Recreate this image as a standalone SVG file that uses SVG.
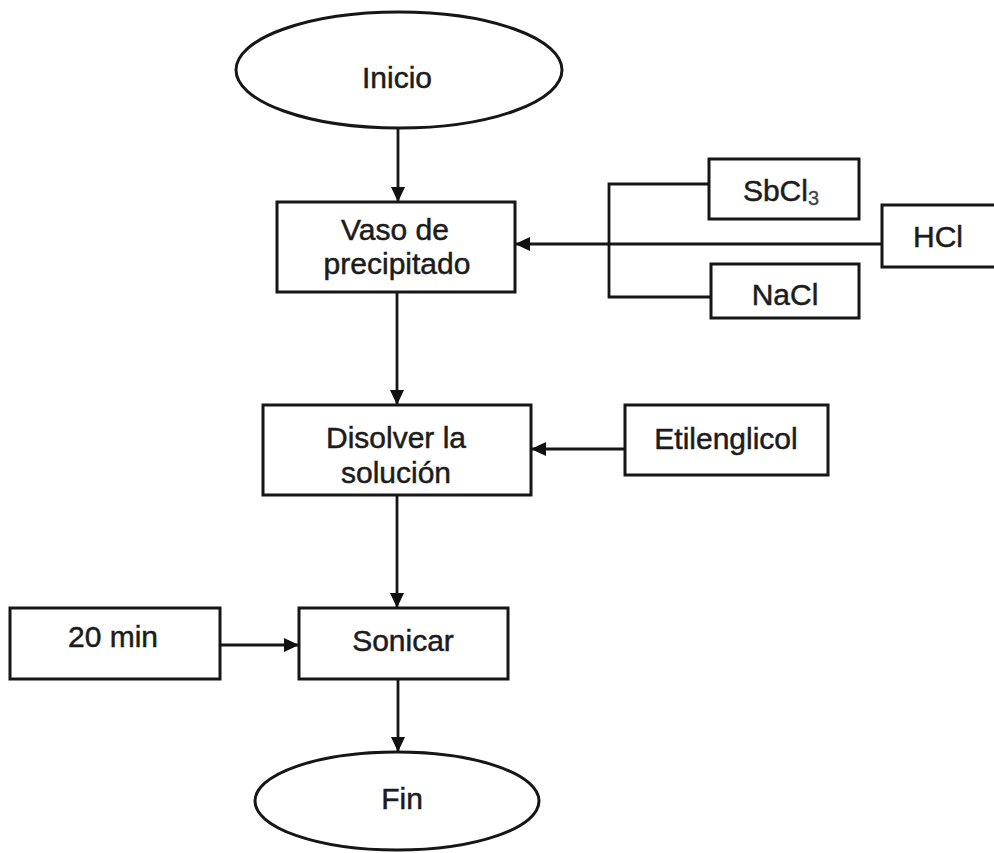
<svg xmlns="http://www.w3.org/2000/svg" width="994" height="853" viewBox="0 0 994 853">
  <defs>
    <marker id="arrow" viewBox="0 0 15 14" refX="14" refY="7" markerWidth="15" markerHeight="14" markerUnits="userSpaceOnUse" orient="auto">
      <path d="M0,0 L15,7 L0,14 Z" fill="#111"/>
    </marker>
  </defs>
  <style>
    .shape { fill: #fff; stroke: #161616; stroke-width: 3; }
    .label { font-family: "Liberation Sans", Arial, sans-serif; font-size: 30px; fill: #1c1c1c; stroke: #1c1c1c; stroke-width: 0.5; text-anchor: middle; }
    .link { fill: none; stroke: #161616; stroke-width: 2.8; }
    .arrowed { marker-end: url(#arrow); }
  </style>
  <rect width="994" height="853" fill="#fff"/>

  <!-- connectors -->
  <g id="connectors">
    <line class="link arrowed" x1="398" y1="129" x2="398" y2="201"/>
    <line class="link arrowed" x1="882" y1="244" x2="516" y2="244"/>
    <polyline class="link" points="709,184 609,184 609,297 711,297"/>
    <line class="link arrowed" x1="397" y1="292" x2="397" y2="404"/>
    <line class="link arrowed" x1="625" y1="449" x2="532" y2="449"/>
    <line class="link arrowed" x1="397" y1="495" x2="397" y2="607"/>
    <line class="link arrowed" x1="221" y1="645" x2="298" y2="645"/>
    <line class="link arrowed" x1="398" y1="679" x2="398" y2="751"/>
  </g>

  <g id="inicio">
    <ellipse class="shape" cx="399" cy="70" rx="163" ry="58"/>
    <text class="label" x="397" y="88">Inicio</text>
  </g>

  <g id="vaso">
    <rect class="shape" x="277" y="202" width="238" height="90"/>
    <text class="label" x="395" y="240">Vaso de</text>
    <text class="label" x="397" y="274">precipitado</text>
  </g>

  <g id="sbcl3">
    <rect class="shape" x="709" y="159" width="150" height="60"/>
    <text class="label" x="781" y="201">SbCl<tspan font-size="20" dy="4" fill="#444" stroke="#444" stroke-width="0.3">3</tspan></text>
  </g>

  <g id="hcl">
    <rect class="shape" x="882" y="205" width="130" height="62"/>
    <text class="label" x="938" y="247">HCl</text>
  </g>

  <g id="nacl">
    <rect class="shape" x="711" y="264" width="148" height="54"/>
    <text class="label" x="785" y="305">NaCl</text>
  </g>

  <g id="disolver">
    <rect class="shape" x="263" y="405" width="268" height="90"/>
    <text class="label" x="396" y="448">Disolver la</text>
    <text class="label" x="396" y="483">solución</text>
  </g>

  <g id="etilenglicol">
    <rect class="shape" x="625" y="405" width="203" height="70"/>
    <text class="label" x="726" y="449">Etilenglicol</text>
  </g>

  <g id="min20">
    <rect class="shape" x="10" y="608" width="210" height="71"/>
    <text class="label" x="113" y="647">20 min</text>
  </g>

  <g id="sonicar">
    <rect class="shape" x="299" y="608" width="209" height="71"/>
    <text class="label" x="403" y="651">Sonicar</text>
  </g>

  <g id="fin">
    <ellipse class="shape" cx="397" cy="801" rx="142" ry="49"/>
    <text class="label" x="402" y="809">Fin</text>
  </g>
</svg>
